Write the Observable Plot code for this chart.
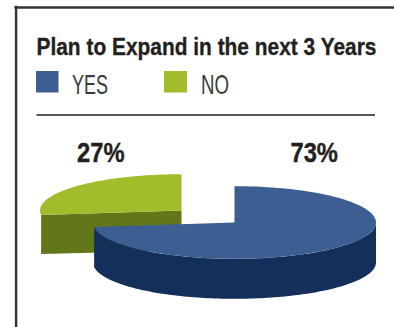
<!DOCTYPE html>
<html>
<head>
<meta charset="utf-8">
<script src="https://cdn.jsdelivr.net/npm/d3@7"></script>
<script src="https://cdn.jsdelivr.net/npm/@observablehq/plot@0.6"></script>
<style>
  html, body { margin: 0; padding: 0; background: #fff; }
  svg { display: block; }
</style>
</head>
<body>
<div id="chart"></div>
<script>
const titleText = "Plan to Expand in the next 3 Years";
const categories = ["YES", "NO"];
const shares = [73, 27];
const topColors = ["#3c5e92", "#a2bd2c"];
const sideColors = ["#14305a", "#62761a"];

const W = 394, H = 327;
const sans = "'Liberation Sans', sans-serif";

// Pie proportions: horizontal and squashed vertical radius, wall height
const rx = 141.5, ry = 36.3, depth = 40;
const yesCentre = [234, 222];
const noCentre = [181, 210];

const total = d3.sum(shares);
const yesTurn = (shares[0] / total) * 2 * Math.PI;

// A point on the rim, angle measured clockwise from twelve o'clock
const rim = ([cx, cy], a, drop = 0) => ({
  x: cx + rx * Math.sin(a),
  y: cy - ry * Math.cos(a) + drop
});
const arc = (c, a0, a1, drop = 0) =>
  d3.range(0, 121).map(i => rim(c, a0 + (a1 - a0) * i / 120, drop));

const yesTop = [{x: yesCentre[0], y: yesCentre[1]}, ...arc(yesCentre, 0, yesTurn)];
const noTop = [{x: noCentre[0], y: noCentre[1]}, ...arc(noCentre, yesTurn, 2 * Math.PI)];

// The visible part of the wall runs along the front of the rim
const yesWall = [
  ...arc(yesCentre, Math.PI / 2, yesTurn),
  ...arc(yesCentre, Math.PI / 2, yesTurn, depth).reverse()
];
const noCutWall = [
  {x: noCentre[0], y: noCentre[1]},
  rim(noCentre, yesTurn),
  rim(noCentre, yesTurn, depth - 1),
  {x: noCentre[0], y: noCentre[1] + depth}
];

const face = (points, fill) =>
  Plot.line(points, {x: "x", y: "y", fill, stroke: "none", curve: "linear-closed"});

const legendItems = categories.map((name, i) => ({
  name,
  fill: topColors[i],
  x1: [36, 164][i],
  x2: [58.5, 187][i],
  tx: [71.5, 200.5][i]
}));

const plot = Plot.plot({
  width: W,
  height: H,
  margin: 0,
  x: {domain: [0, W], range: [0, W], axis: null},
  y: {domain: [0, H], range: [0, H], axis: null},
  style: {background: "#fff"},
  marks: [
    // Panel border, open towards the lower right
    Plot.ruleX([15.6], {y1: 5.7, y2: H, stroke: "#333", strokeWidth: 2.4}),
    Plot.ruleY([7], {x1: 14.4, x2: W, stroke: "#333", strokeWidth: 2.6}),

    Plot.text([titleText], {
      x: () => 36, y: () => 54, text: d => d, textAnchor: "start", lineAnchor: "bottom",
      fontFamily: sans, fontWeight: "bold", fontSize: 24, fill: "#231f20",
      stroke: "#231f20", strokeWidth: 0.35,
      className: "fit-title"
    }),

    Plot.rect(legendItems, {x1: "x1", x2: "x2", y1: 71, y2: 92.5, fill: "fill", inset: 0}),
    Plot.text(legendItems, {
      x: "tx", y: () => 93.5, text: "name", textAnchor: "start", lineAnchor: "bottom",
      fontFamily: sans, fontSize: 27, fill: "#3a3a3c",
      className: "fit-legend"
    }),
    Plot.ruleY([114.5], {x1: 36.5, x2: 375, stroke: "#231f20", strokeWidth: 1.5}),

    // Detached slice first, so the larger slice overlaps it
    face(noCutWall, sideColors[1]),
    face(noTop, topColors[1]),
    face(yesWall, sideColors[0]),
    face(yesTop, topColors[0]),

    Plot.text(shares, {
      x: (d, i) => [313.7, 100.3][i],
      y: () => 161,
      text: d => `${d}%`,
      textAnchor: "middle",
      lineAnchor: "bottom",
      fontFamily: sans,
      fontWeight: "bold",
      fontSize: 27,
      fill: "#231f20",
      stroke: "#231f20",
      strokeWidth: 0.4,
      className: "fit-share"
    })
  ]
});

document.getElementById("chart").append(plot);

// The face is set condensed: narrow each label horizontally to its measure
const squeeze = (selector, lengths) => {
  plot.querySelectorAll(`.${selector} text`).forEach((el, i) => {
    const sx = lengths[i] / el.getComputedTextLength();
    const placed = el.getAttribute("transform") || "";
    el.setAttribute("transform", `${placed} scale(${sx} 1)`);
  });
};
squeeze("fit-title", [340]);
squeeze("fit-legend", [36, 28]);
squeeze("fit-share", [47.5, 47.5]);
</script>
</body>
</html>
